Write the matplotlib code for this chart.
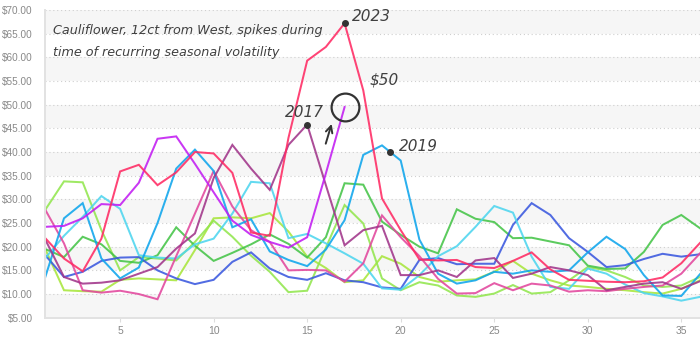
import matplotlib
matplotlib.use("Agg")
import matplotlib.pyplot as plt
from matplotlib.patches import Rectangle

# Weekly FOB price, cauliflower 12ct, shipped from the West
weeks = list(range(1, 37))

price_2023 = [21.8, 17.5, 14.8, 21.7, 35.9, 37.3, 33.0, 35.7, 40.0, 39.7, 35.6, 23.0,
              22.3, 43.0, 59.3, 62.2, 67.2, 53.0, 30.2, 23.5, 17.3, 17.1, 17.2, 15.7,
              15.5, 17.0, 18.8, 15.2, 13.0, 12.8, 12.6, 12.5, 12.7, 13.5, 16.5, 20.8]
price_2024 = [24.2, 24.4, 26.0, 29.0, 28.8, 33.5, 42.8, 43.3, 37.5, 31.5, 25.5, 22.5,
              21.0, 19.8, 22.0, 35.5, 49.5]
price_2017 = [21.5, 13.6, 12.2, 12.4, 12.9, 14.3, 15.7, 19.6, 22.8, 34.5, 41.5, 36.5,
              32.0, 41.5, 45.8, 33.0, 20.3, 23.5, 24.4, 14.0, 14.0, 15.0, 13.6, 17.1,
              17.6, 13.4, 14.3, 15.7, 15.0, 14.0, 10.8, 11.5, 12.2, 12.5, 11.1, 12.7]
price_2019 = [13.6, 26.0, 29.2, 17.5, 13.3, 15.6, 25.0, 36.5, 40.5, 36.0, 24.1, 25.8,
              19.0, 17.2, 15.9, 19.4, 25.6, 39.4, 41.4, 38.2, 21.5, 14.3, 12.2, 12.9,
              14.7, 14.3, 15.0, 14.7, 15.0, 18.8, 22.1, 19.5, 14.0, 9.7, 9.6, 14.2]
price_cyan = [17.6, 22.3, 26.3, 30.7, 28.0, 18.2, 17.7, 17.5, 20.5, 21.7, 27.0, 33.7,
              33.4, 21.8, 22.7, 20.7, 18.6, 16.4, 11.2, 10.9, 14.0, 18.0, 20.1, 24.2,
              28.6, 27.2, 17.9, 11.5, 11.1, 15.4, 14.3, 12.0, 10.2, 9.5, 8.6, 9.4]
price_green = [19.5, 17.8, 22.1, 20.5, 17.0, 16.6, 18.2, 24.1, 20.2, 17.0, 18.7, 20.5,
               22.6, 20.6, 17.7, 22.0, 33.4, 33.1, 25.3, 22.5, 20.0, 18.6, 27.9, 25.9,
               25.2, 21.8, 21.9, 21.1, 20.3, 16.0, 15.3, 15.4, 18.9, 24.6, 26.7, 23.9]
price_lime_a = [27.8, 33.8, 33.6, 23.5, 15.0, 17.8, 17.5, 17.1, 21.0, 25.5, 22.1, 18.1,
                14.7, 10.4, 10.7, 19.8, 28.8, 24.9, 13.3, 10.8, 12.5, 11.8, 9.7, 9.4,
                10.1, 11.9, 10.1, 10.4, 12.9, 15.7, 15.0, 13.6, 11.8, 11.5, 11.8, 13.6]
price_lime_b = [19.5, 10.8, 10.6, 10.5, 13.0, 13.3, 13.1, 12.9, 19.3, 26.0, 26.2, 26.0,
                27.1, 23.2, 17.9, 15.5, 12.5, 12.9, 18.0, 16.4, 13.6, 12.6, 12.9, 13.1,
                14.7, 17.0, 14.3, 12.9, 11.8, 11.5, 11.1, 10.8, 10.4, 10.1, 11.1, 12.9]
price_royal = [18.2, 13.6, 14.7, 17.0, 17.7, 17.8, 15.0, 13.3, 12.1, 13.0, 16.8, 18.8,
               15.4, 13.6, 13.0, 14.4, 12.9, 12.5, 11.4, 11.1, 17.2, 17.6, 16.3, 16.4,
               16.4, 24.6, 29.2, 26.7, 21.8, 18.9, 15.7, 16.1, 17.4, 18.5, 17.9, 18.4]
price_pink = [27.8, 20.7, 10.8, 10.3, 10.7, 10.0, 8.9, 18.0, 27.0, 36.0, 28.5, 23.5,
              21.0, 15.0, 15.1, 15.0, 12.6, 16.5, 26.6, 22.0, 18.0, 13.2, 10.1, 10.2,
              12.3, 10.8, 12.2, 11.8, 10.5, 10.8, 10.6, 11.1, 11.5, 11.8, 14.3, 18.6]

series = [
    (price_lime_b, "#a8e63c"),
    (price_lime_a, "#92e64e"),
    (price_green, "#45c448"),
    (price_royal, "#3a58df"),
    (price_cyan, "#4dd5ef"),
    (price_pink, "#e2479d"),
    (price_2019, "#0ea5ec"),
    (price_2017, "#a1358a"),
    (price_2024, "#c21cf2"),
    (price_2023, "#ff2a63"),
]

y_ticks = list(range(5, 71, 5))
x_ticks = [5, 10, 15, 20, 25, 30, 35]

fig = plt.figure(figsize=(7.0, 3.39), dpi=100)
ax = fig.add_axes([0.0647, 0.0628, 0.9353, 0.9077])
ax.set_xlim(1, 36)
ax.set_ylim(5, 70)

# alternating background bands with dotted gridlines
for lo in range(5, 70, 10):
    ax.add_patch(Rectangle((1, lo), 35, 5, facecolor="#f6f6f6",
                           edgecolor="none", zorder=0))
for v in y_ticks[1:]:
    ax.axhline(v, color="#cfcfcf", lw=0.8, ls=(0, (1, 2.5)), zorder=0.5)

for vals, col in series:
    ax.plot(weeks[:len(vals)], vals, color=col, lw=1.45, alpha=0.88,
            solid_joinstyle="miter", zorder=2)

for side in ["top", "right"]:
    ax.spines[side].set_visible(False)
for side in ["left", "bottom"]:
    ax.spines[side].set_color("#e2e2e2")
    ax.spines[side].set_linewidth(1.4)

ax.set_yticks(y_ticks)
ax.set_yticklabels([f"${v:.2f}" for v in y_ticks])
ax.set_xticks(x_ticks)
ax.tick_params(axis="y", length=0, pad=9, labelsize=7.2,
               labelcolor="#888888")
ax.tick_params(axis="x", length=3, color="#dddddd", pad=3, labelsize=7.5,
               labelcolor="#888888")
for lab in ax.get_yticklabels() + ax.get_xticklabels():
    lab.set_family("Liberation Sans")

hand = dict(family="DejaVu Sans", style="italic", color="#404040")

ax.text(1.4, 65.6, "Cauliflower, 12ct from West, spikes during",
        fontsize=9.2, va="center", ha="left", **hand)
ax.text(1.4, 61.1, "time of recurring seasonal volatility",
        fontsize=9.2, va="center", ha="left", **hand)

# callouts
ax.plot([17], [price_2023[16]], "o", color="#333333", ms=4, zorder=5)
ax.text(17.4, 68.6, "2023", fontsize=11, va="center", ha="left", **hand)

ax.plot([15], [price_2017[14]], "o", color="#333333", ms=4, zorder=5)
ax.text(13.8, 48.3, "2017", fontsize=11, va="center", ha="left", **hand)

ax.plot([19.45], [39.9], "o", color="#333333", ms=4, zorder=5)
ax.text(19.9, 41.2, "2019", fontsize=11, va="center", ha="left", **hand)

ax.text(18.35, 55.3, "$50", fontsize=11, va="center", ha="left", **hand)
ax.plot([17], [price_2024[16]], "o", ms=20, mfc="none", mec="#333333",
        mew=1.6, zorder=5)
ax.annotate("", xy=(16.35, 46.5), xytext=(15.95, 41.2),
            arrowprops=dict(arrowstyle="->", color="#333333", lw=1.4,
                            mutation_scale=12), zorder=5)

fig.savefig("out.png", dpi=100, facecolor="white")
